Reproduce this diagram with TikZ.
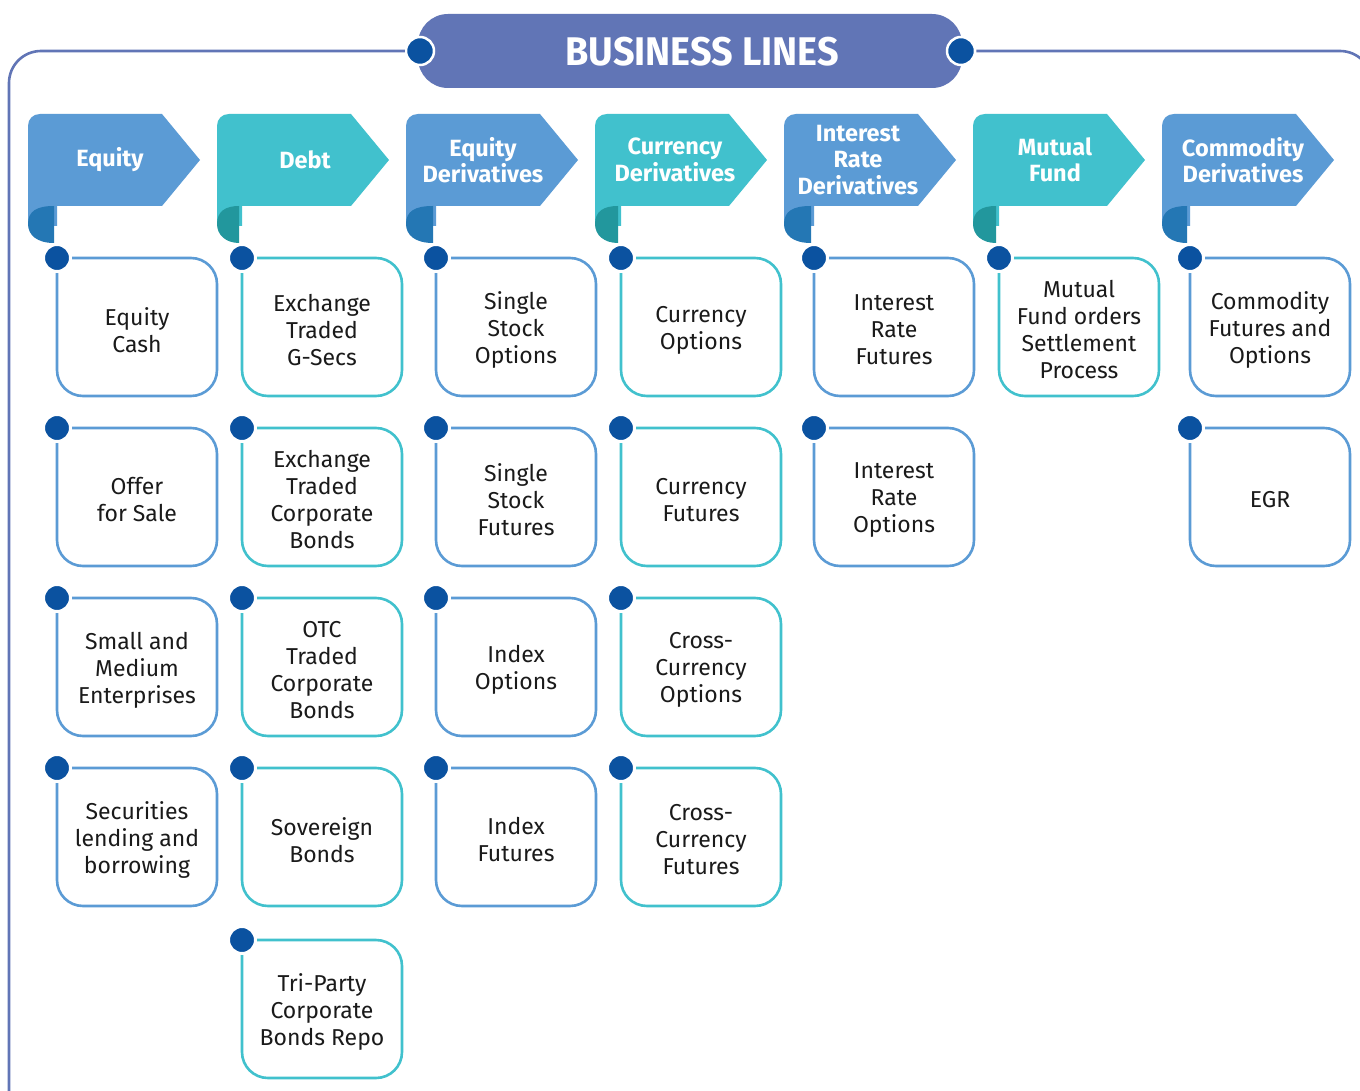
\documentclass[tikz,border=0pt]{standalone}
\usepackage{fontspec}
\setmainfont{Fira Sans}
\usetikzlibrary{calc}
\pgfdeclarelayer{bg}
\pgfsetlayers{bg,main}

\definecolor{frameblue}{HTML}{6175B6}
\definecolor{blueA}{HTML}{5B9BD5}
\definecolor{blueD}{HTML}{2477B4}
\definecolor{tealA}{HTML}{41C1CD}
\definecolor{tealD}{HTML}{22979D}
\definecolor{dotblue}{HTML}{0B52A0}
\definecolor{txt}{HTML}{1A1A1A}

% column heading: flag with a rolled foot; #1 name, #2 left x, #3 stem x,
% #4 flag colour, #5 roll colour, #6 heading, #7 heading centre x
\newcommand\lineflag[7]{%
  \fill[#4] (#2,226) -- (#2,126) .. controls (#2,119) and (#2+5,114) .. (#2+12,114)
    -- (#2+134,114) -- (#2+172,160) -- (#2+134,206) -- (#3,206) -- (#3,226) -- cycle;
  \fill[#5] (#2,224) .. controls (#2,211) and (#2+9,206) .. (#3-3,206)
    -- (#3-3,243) .. controls (#2+9,243) and (#2,235) .. (#2,224) -- cycle;
  \coordinate (#1-foot) at (#3,206);
  \node[flagtext] (#1) at (#7,160) {#6};
}

% product card hanging from the stem; #1 name, #2 colour, #3 stem x, #4 top y, #5 text
\newcommand\bizcard[5]{%
  \node[cardbox, anchor=north west] (#1) at (#3,#4) {};
  \node[cardtext] (#1-text) at ([yshift=-3pt]#1.center) {#5};
  \draw[cardline, draw=#2] (#1.north west) -- (#1.north east) -- (#1.south east)
    -- (#1.south west) -- (#1.north west);
  \node[dot] (#1-dot) at (#1.north west) {};
}

\begin{document}
\begin{tikzpicture}[x=1pt, y=-1pt,
  flagtext/.style={text=white, align=center, inner sep=0pt,
    font=\fontsize{23.5}{26.5}\selectfont\bfseries},
  cardbox/.style={minimum width=160pt, minimum height=138pt, inner sep=0pt,
    outer sep=0pt},
  cardtext/.style={align=center, text=txt, inner sep=0pt,
    font=\fontsize{23}{27}\selectfont},
  cardline/.style={line width=2.6pt, rounded corners=26pt},
  stem/.style={line width=3pt},
  dot/.style={circle, fill=dotblue, draw=white, line width=3pt,
    minimum size=27pt, inner sep=0pt},
  enddot/.style={circle, fill=dotblue, draw=white, line width=2.5pt,
    minimum size=28pt, inner sep=0pt},
  frame/.style={draw=frameblue, line width=2.6pt, rounded corners=32pt}]

\useasboundingbox (0,0) rectangle (1360,1091);
\clip (0,0) rectangle (1360,1091);
\fill[white] (0,0) rectangle (1360,1091);

% title banner and outer frame
\node[fill=frameblue, rounded corners=30pt, minimum width=544pt,
  minimum height=74pt, inner sep=0pt] (title) at (690,51) {};
\node[text=white, font=\fontsize{40}{40}\selectfont\bfseries, inner sep=0pt]
  (title-text) at (702,52) {\scalebox{0.945}[1]{BUSINESS LINES}};
\node[enddot] (bl) at (420,51) {};
\node[enddot] (br) at (961,51) {};
\draw[frame] (bl) -- (9,51) -- (9,1125) -- (1372,1125) -- (1372,51) -- (br);

% column headings
\lineflag{eq}{28}{57}{blueA}{blueD}{Equity}{110}
\lineflag{debt}{217}{242}{tealA}{tealD}{Debt}{305}
\lineflag{eqd}{406}{436}{blueA}{blueD}{Equity\\Derivatives}{483}
\lineflag{cur}{595}{621}{tealA}{tealD}{Currency\\Derivatives}{675}
\lineflag{ird}{784}{814}{blueA}{blueD}{Interest\\Rate\\Derivatives}{858}
\lineflag{mf}{973}{999}{tealA}{tealD}{Mutual\\Fund}{1055}
\lineflag{com}{1162}{1190}{blueA}{blueD}{Commodity\\Derivatives}{1243}

% Equity
\bizcard{eq1}{blueA}{57}{258}{Equity\\Cash}
\bizcard{eq2}{blueA}{57}{428}{Offer\\for Sale}
\bizcard{eq3}{blueA}{57}{598}{Small and\\Medium\\Enterprises}
\bizcard{eq4}{blueA}{57}{768}{Securities\\lending and\\borrowing}

% Debt
\bizcard{debt1}{tealA}{242}{258}{Exchange\\Traded\\G-Secs}
\bizcard{debt2}{tealA}{242}{428}{Exchange\\Traded\\Corporate\\Bonds}
\bizcard{debt3}{tealA}{242}{598}{OTC\\Traded\\Corporate\\Bonds}
\bizcard{debt4}{tealA}{242}{768}{Sovereign\\Bonds}
\bizcard{debt5}{tealA}{242}{940}{Tri-Party\\Corporate\\Bonds Repo}

% Equity Derivatives
\bizcard{eqd1}{blueA}{436}{258}{Single\\Stock\\Options}
\bizcard{eqd2}{blueA}{436}{428}{Single\\Stock\\Futures}
\bizcard{eqd3}{blueA}{436}{598}{Index\\Options}
\bizcard{eqd4}{blueA}{436}{768}{Index\\Futures}

% Currency Derivatives
\bizcard{cur1}{tealA}{621}{258}{Currency\\Options}
\bizcard{cur2}{tealA}{621}{428}{Currency\\Futures}
\bizcard{cur3}{tealA}{621}{598}{Cross-\\Currency\\Options}
\bizcard{cur4}{tealA}{621}{768}{Cross-\\Currency\\Futures}

% Interest Rate Derivatives
\bizcard{ird1}{blueA}{814}{258}{Interest\\Rate\\Futures}
\bizcard{ird2}{blueA}{814}{428}{Interest\\Rate\\Options}

% Mutual Fund
\bizcard{mf1}{tealA}{999}{258}{Mutual\\Fund orders\\Settlement\\Process}

% Commodity Derivatives
\bizcard{com1}{blueA}{1190}{258}{Commodity\\Futures and\\Options}
\bizcard{com2}{blueA}{1190}{428}{EGR}

% stems from each heading down to its last card
\begin{pgfonlayer}{bg}
  \draw[stem, blueA] (eq-foot) -- (eq4.north west);
  \draw[stem, tealA] (debt-foot) -- (debt5.north west);
  \draw[stem, blueA] (eqd-foot) -- (eqd4.north west);
  \draw[stem, tealA] (cur-foot) -- (cur4.north west);
  \draw[stem, blueA] (ird-foot) -- (ird2.north west);
  \draw[stem, tealA] (mf-foot) -- (mf1.north west);
  \draw[stem, blueA] (com-foot) -- (com2.north west);
\end{pgfonlayer}
\end{tikzpicture}
\end{document}
